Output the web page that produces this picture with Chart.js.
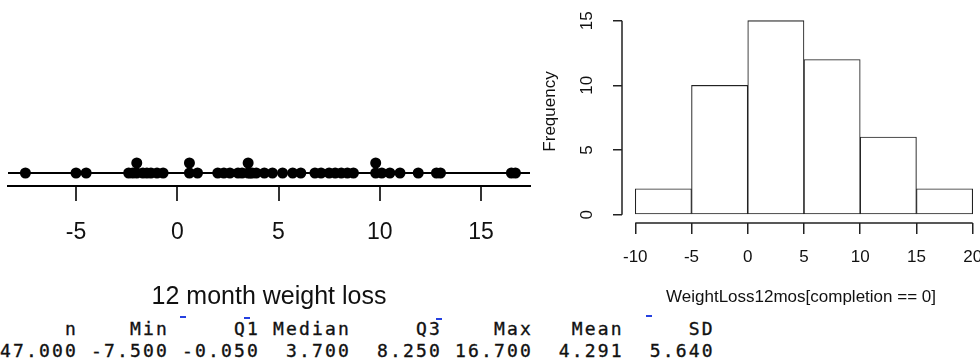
<!DOCTYPE html>
<html>
<head>
<meta charset="utf-8">
<script src="https://cdn.jsdelivr.net/npm/chart.js@4"></script>
<style>
  body { margin: 0; background: #fff; }
  #wrap { position: relative; width: 980px; height: 362px; overflow: hidden; }
  #dot_box { position: absolute; left: 0; top: 0; width: 540px; height: 315px; }
  #hist_box { position: absolute; left: 530px; top: 0; width: 450px; height: 315px; }
  #summary {
    position: absolute; left: 0; top: 318px; margin: 0;
    font-family: 'DejaVu Sans Mono', monospace; font-size: 18px;
    line-height: 22px; letter-spacing: 2.16px; color: #111;
    -webkit-text-stroke: 0.35px #111;
  }
  .mark { position: absolute; width: 6px; height: 2px; background: #2540e0; }
</style>
</head>
<body>
<div id="wrap">
  <div id="dot_box"><canvas id="dot_chart"></canvas></div>
  <div id="hist_box"><canvas id="hist_chart"></canvas></div>
  <pre id="summary"></pre>
  <div class="mark" style="left:180px;top:316px"></div>
  <div class="mark" style="left:244px;top:317px"></div>
  <div class="mark" style="left:436px;top:318px"></div>
  <div class="mark" style="left:646px;top:315px"></div>
</div>
<script>
// 12 month weight loss, completion == 0
const weight_loss = [
  -7.5, -5.0,
  -4.5, -2.4, -2.2, -2.0, -2.0, -1.7, -1.5, -1.3, -1.0, -0.7,
  0.6, 0.6, 1.0, 2.0, 2.3, 2.6, 3.0, 3.2, 3.5, 3.5, 3.6, 3.7, 3.9, 4.3, 4.7,
  5.2, 5.7, 6.1, 6.8, 7.1, 7.5, 7.8, 8.1, 8.4, 8.7, 9.8, 9.8,
  10.1, 10.5, 11.0, 11.9, 12.8, 13.0,
  16.5, 16.7,
]
const dot_ticks = [-5, 0, 5, 10, 15]

// histogram
const bin_centers = [-7.5, -2.5, 2.5, 7.5, 12.5, 17.5]
const frequency = [2, 10, 15, 12, 6, 2]
const hist_ticks = [-10, -5, 0, 5, 10, 15, 20]
const freq_ticks = [0, 5, 10, 15]

// summary table
const stat_names = ['n', 'Min', 'Q1', 'Median', 'Q3', 'Max', 'Mean', 'SD']
const stat_values = [47, -7.5, -0.05, 3.7, 8.25, 16.7, 4.291, 5.64]

const font_family = "'Liberation Sans', Arial, sans-serif"

// stack equal values like stripchart(method = 'stack')
const seen = {}
const dot_points = weight_loss.map((v) => {
  const k = v.toFixed(1)
  seen[k] = (seen[k] || 0) + 1
  return { x: v, y: seen[k] - 1 }
})

// no extra room for the end labels
const no_pad = (scale) => {
  scale.paddingLeft = 0
  scale.paddingRight = 0
  scale.paddingTop = 0
  scale.paddingBottom = 0
}

const baseline_plugin = {
  id: 'baseline',
  beforeDatasetsDraw(chart) {
    const { ctx, chartArea, scales } = chart
    const y = scales.y.getPixelForValue(0)
    ctx.save()
    ctx.strokeStyle = '#000'
    ctx.lineWidth = 2
    ctx.beginPath()
    ctx.moveTo(chartArea.left, y)
    ctx.lineTo(chartArea.right, y)
    ctx.stroke()
    ctx.restore()
  },
}

const dot_chart = new Chart(document.getElementById('dot_chart'), {
  type: 'scatter',
  data: {
    datasets: [
      {
        data: dot_points,
        pointRadius: 5.5,
        backgroundColor: '#000',
        borderColor: '#000',
        borderWidth: 0,
      },
    ],
  },
  options: {
    responsive: true,
    maintainAspectRatio: false,
    animation: false,
    events: [],
    layout: { padding: { left: 8, right: 10, top: 140, bottom: 0 } },
    plugins: { legend: { display: false }, tooltip: { enabled: false } },
    scales: {
      x: {
        type: 'linear',
        min: -8.36,
        max: 17.42,
        afterBuildTicks: (scale) => {
          scale.ticks = dot_ticks.map((v) => ({ value: v }))
        },
        afterFit: (scale) => {
          scale.height = 129
          no_pad(scale)
        },
        border: { display: true, color: '#000', width: 2 },
        grid: {
          drawOnChartArea: false,
          drawTicks: true,
          tickLength: 15,
          tickColor: '#333',
          lineWidth: 2,
        },
        ticks: {
          padding: 18,
          color: '#111',
          font: { family: font_family, size: 23 },
          maxRotation: 0,
        },
        title: {
          display: true,
          text: '12 month weight loss',
          color: '#111',
          font: { family: font_family, size: 25 },
          padding: { top: 0, bottom: 3 },
        },
      },
      y: { display: false, min: -1.3, max: 3.3 },
    },
  },
  plugins: [baseline_plugin],
})

// axis lines only over the tick range, R style
const r_axes_plugin = {
  id: 'r_axes',
  afterDraw(chart) {
    const { ctx, chartArea, scales } = chart
    ctx.save()
    ctx.strokeStyle = '#222'
    ctx.lineWidth = 1.5
    ctx.beginPath()
    ctx.moveTo(scales.x.getPixelForValue(hist_ticks[0]), chartArea.bottom)
    ctx.lineTo(scales.x.getPixelForValue(hist_ticks[hist_ticks.length - 1]), chartArea.bottom)
    ctx.moveTo(chartArea.left, scales.y.getPixelForValue(freq_ticks[0]))
    ctx.lineTo(chartArea.left, scales.y.getPixelForValue(freq_ticks[freq_ticks.length - 1]))
    ctx.stroke()
    ctx.restore()
  },
}

const hist_chart = new Chart(document.getElementById('hist_chart'), {
  type: 'bar',
  data: {
    datasets: [
      {
        data: bin_centers.map((c, i) => ({ x: c, y: frequency[i] })),
        backgroundColor: '#fff',
        borderColor: '#222',
        borderWidth: 1.1,
        borderSkipped: false,
        barPercentage: 1,
        categoryPercentage: 1,
      },
    ],
  },
  options: {
    responsive: true,
    maintainAspectRatio: false,
    animation: false,
    events: [],
    layout: { padding: 0 },
    plugins: { legend: { display: false }, tooltip: { enabled: false } },
    scales: {
      x: {
        type: 'linear',
        offset: false,
        min: -11.18,
        max: 20.65,
        afterBuildTicks: (scale) => {
          scale.ticks = hist_ticks.map((v) => ({ value: v }))
        },
        afterFit: (scale) => {
          scale.height = 92
          no_pad(scale)
        },
        border: { display: false },
        grid: {
          offset: false,
          drawOnChartArea: false,
          drawTicks: true,
          tickLength: 11,
          tickColor: '#222',
          lineWidth: 1.5,
        },
        ticks: {
          padding: 12.8,
          color: '#111',
          font: { family: font_family, size: 17 },
          maxRotation: 0,
        },
        title: {
          display: true,
          text: 'WeightLoss12mos[completion == 0]',
          color: '#111',
          font: { family: font_family, size: 17 },
          padding: { top: 0, bottom: 7 },
        },
      },
      y: {
        min: -0.642,
        max: 16.6,
        afterBuildTicks: (scale) => {
          scale.ticks = freq_ticks.map((v) => ({ value: v }))
        },
        afterFit: (scale) => {
          scale.width = 92
          no_pad(scale)
        },
        border: { display: false },
        grid: {
          drawOnChartArea: false,
          drawTicks: true,
          tickLength: 9,
          tickColor: '#222',
          lineWidth: 1.5,
        },
        ticks: {
          padding: 16,
          crossAlign: 'center',
          minRotation: 90,
          maxRotation: 90,
          color: '#111',
          font: { family: font_family, size: 17 },
        },
        title: {
          display: true,
          text: 'Frequency',
          color: '#111',
          font: { family: font_family, size: 17 },
          padding: { top: 10, bottom: 0 },
        },
      },
    },
  },
  plugins: [r_axes_plugin],
})

// summary lines, right aligned columns of width 6
const head_line = stat_names.map((s) => s.padStart(6)).join(' ')
const value_line = stat_values.map((v) => v.toFixed(3).padStart(6)).join(' ')
document.getElementById('summary').textContent = head_line + '\n' + value_line
</script>
</body>
</html>
